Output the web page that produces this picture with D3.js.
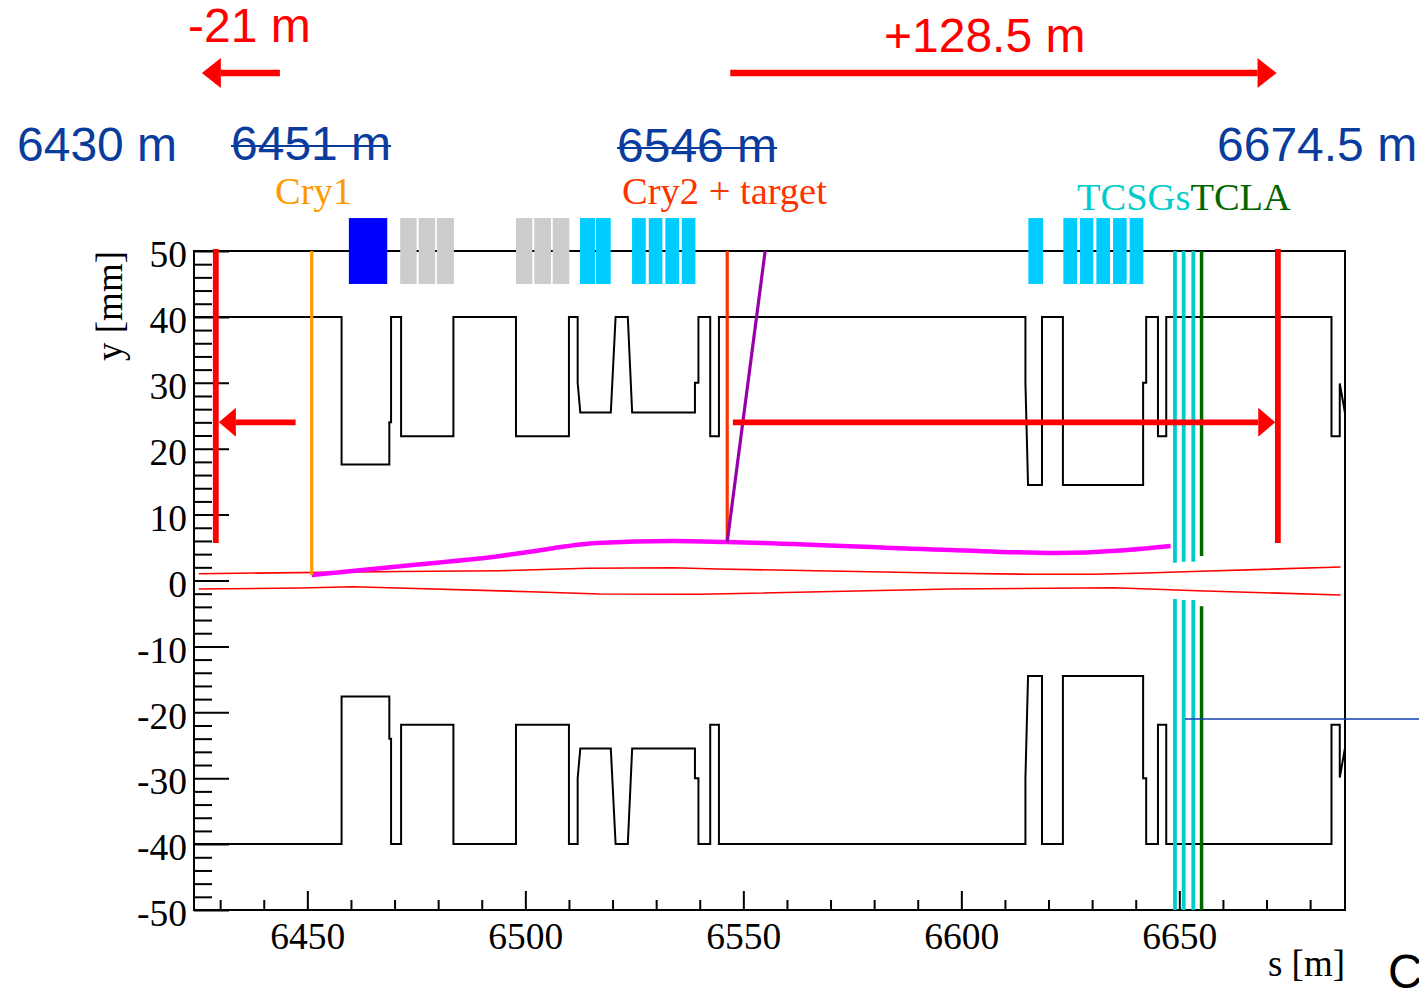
<!DOCTYPE html>
<html>
<head>
<meta charset="utf-8">
<script src="https://cdn.jsdelivr.net/npm/d3@7"></script>
<style>
body { margin: 0; background: #fff; }
</style>
</head>
<body>
<div class="chart"></div>
<script>
const width = 1419
const height = 989
const margin = { top: 251, right: 74, bottom: 79, left: 194 }
const innerWidth = width - margin.left - margin.right
const innerHeight = height - margin.top - margin.bottom

// axes
const sDomain = [6424, 6688]
const yDomain = [-50, 50]
const xTicksMajor = [6450, 6500, 6550, 6600, 6650]
const xTicksMinor = [6430, 6440, 6460, 6470, 6480, 6490, 6510, 6520, 6530, 6540, 6560, 6570, 6580, 6590, 6610, 6620, 6630, 6640, 6660, 6670, 6680]
const yTicksMajor = [-50, -40, -30, -20, -10, 0, 10, 20, 30, 40, 50]
const yTicksMinor = d3.range(-48, 50, 2).filter(v => v % 10 !== 0)

// aperture (upper half, lower half is its mirror) [s, y]
const aperture = [
    [6424, 40], [6457.85, 40], [6457.85, 17.6], [6468.8, 17.6], [6468.8, 24], [6469.2, 24], [6469.2, 40],
    [6471.5, 40], [6471.5, 21.9], [6483.5, 21.9], [6483.5, 40], [6497.85, 40], [6497.85, 21.9],
    [6510, 21.9], [6510, 40], [6512, 40], [6512, 30], [6512.6, 25.5], [6519.6, 25.5], [6520.7, 40],
    [6523.5, 40], [6524.5, 25.5], [6538.9, 25.5], [6538.9, 30], [6539.7, 30], [6539.7, 40],
    [6542.4, 40], [6542.4, 21.9], [6544.4, 21.9], [6544.4, 40], [6614.7, 40], [6614.7, 30],
    [6615.3, 14.5], [6618.5, 14.5], [6618.5, 40], [6623.3, 40], [6623.3, 14.5], [6641.7, 14.5],
    [6641.7, 30], [6642.4, 30], [6642.4, 40], [6645.1, 40], [6645.1, 21.9], [6647.0, 21.9],
    [6647.0, 40], [6684.9, 40], [6684.9, 21.9], [6686.8, 21.9], [6686.8, 29.9], [6688, 25.4]
]

// beam envelope
const envUpper = [[6425.1, 1.03], [6471.2, 1.37], [6494.2, 1.49], [6514.2, 1.85], [6533.9, 1.94], [6544.0, 1.75],
    [6597.5, 1.09], [6615.8, 0.94], [6630.3, 0.94], [6640.4, 1.09], [6654.9, 1.40], [6687.0, 2.05]]
const envLower = [[6425.1, -1.29], [6448.3, -1.14], [6460.4, -0.94], [6466.6, -1.06], [6501.1, -1.70],
    [6517.1, -2.05], [6540.1, -2.09], [6597.5, -1.29], [6634.9, -1.09], [6654.2, -1.55], [6687.0, -2.20]]

// channeled beam trajectory
const channeled = [[6451.0, 0.83], [6474.2, 2.35], [6494.2, 3.72], [6501.1, 4.37], [6516.4, 5.69], [6533.9, 5.99],
    [6546.3, 5.84], [6597.5, 4.63], [6622.0, 4.17], [6636.5, 4.55], [6648.0, 5.24]]
const secondary = [[6546.3, 5.84], [6555.0, 50]]

// elements drawn above the frame [s0, s1]
const dipoleBlue = [[6459.52, 6468.32]]
const magnetsGray = [[6471.30, 6475.06], [6475.52, 6479.33], [6479.72, 6483.62],
    [6497.85, 6501.60], [6502.05, 6505.89], [6506.28, 6510.09]]
const quadsCyan = [[6512.54, 6515.98], [6516.21, 6519.59], [6524.48, 6527.62], [6528.31, 6531.43],
    [6532.12, 6535.27], [6535.88, 6539.01], [6615.37, 6618.74], [6623.40, 6626.54], [6627.23, 6630.28],
    [6630.97, 6634.11], [6634.80, 6637.92], [6638.61, 6641.75]]
const elementY = [45, 55]

// crystals and collimators
const cry1 = { s: 6451.0, y0: 0.83 }
const cry2 = { s: 6546.3, y0: 5.84 }
const tcsgS = [6649.0, 6651.0, 6653.2]
const tcsgUp = [2.7, 2.85, 2.85]
const tcsgLow = [-2.8, -2.96, -2.96]
const tclaS = [6655.1]
const tclaUp = [3.7]
const tclaLow = [-3.9]

// red markers
const redLines = [6429.0, 6672.6]
const redLineY = [5.7, 50.3]
const arrowsIn = [[6447.3, 6429.7], [6547.6, 6672.0]]
const arrowInY = 24
const arrowsTop = [[6443.7, 6425.8], [6547.0, 6672.3]]
const pointer = [[6651.3, -21], [6705, -21]]

const svg = d3.select(".chart")
    .append("svg")
    .attr("width", width)
    .attr("height", height)

const g = svg.append("g")
    .attr("transform", "translate(" + margin.left + "," + margin.top + ")")

const xScale = d3.scaleLinear().domain(sDomain).range([0, innerWidth])
const yScale = d3.scaleLinear().domain(yDomain).range([innerHeight, 0])

svg.append("defs").append("clipPath").attr("id", "clip")
    .append("rect").attr("width", innerWidth).attr("height", innerHeight)

// axes
const serif = "Liberation Serif, Times New Roman, serif"
const sans = "Liberation Sans, Arial, sans-serif"

const xAxis = d3.axisBottom(xScale).tickValues(xTicksMajor).tickFormat(d => String(d))
    .tickSizeInner(-19).tickSizeOuter(0).tickPadding(12)
const xAxisMinor = d3.axisBottom(xScale).tickValues(xTicksMinor).tickFormat("")
    .tickSizeInner(-10).tickSizeOuter(0)
const yAxis = d3.axisLeft(yScale).tickValues(yTicksMajor).tickFormat(d => String(d))
    .tickSizeInner(-35).tickSizeOuter(0).tickPadding(7)
const yAxisMinor = d3.axisLeft(yScale).tickValues(yTicksMinor).tickFormat("")
    .tickSizeInner(-18).tickSizeOuter(0)

function styleAxis(sel) {
    sel.select(".domain").remove()
    sel.selectAll("line").attr("stroke", "#000").attr("stroke-width", 2)
    sel.selectAll("text").attr("font-family", serif).attr("font-size", 37.5).attr("fill", "#000")
}

g.append("g").attr("transform", "translate(0," + innerHeight + ")").call(xAxis).call(styleAxis)
g.append("g").attr("transform", "translate(0," + innerHeight + ")").call(xAxisMinor).call(styleAxis)
g.append("g").call(yAxis).call(styleAxis)
    .selectAll("text").attr("dy", "0.42em")
g.append("g").call(yAxisMinor).call(styleAxis)

g.append("rect")
    .attr("width", innerWidth).attr("height", innerHeight)
    .attr("fill", "none").attr("stroke", "#000").attr("stroke-width", 2)

g.append("text")
    .attr("transform", "translate(" + (-72) + ",0) rotate(-90)")
    .attr("text-anchor", "end")
    .attr("font-family", serif).attr("font-size", 37)
    .text("y [mm]")

g.append("text")
    .attr("x", innerWidth).attr("y", innerHeight + 66)
    .attr("text-anchor", "end")
    .attr("font-family", serif).attr("font-size", 37)
    .text("s [m]")

// elements above frame
function drawElements(list, color) {
    g.selectAll(null).data(list).enter().append("rect")
        .attr("x", d => xScale(d[0]))
        .attr("width", d => xScale(d[1]) - xScale(d[0]))
        .attr("y", yScale(elementY[1]))
        .attr("height", yScale(elementY[0]) - yScale(elementY[1]))
        .attr("fill", color)
}
drawElements(dipoleBlue, "#0000ff")
drawElements(magnetsGray, "#cccccc")
drawElements(quadsCyan, "#00ccff")

const plot = g.append("g").attr("clip-path", "url(#clip)")
const line = d3.line().x(d => xScale(d[0])).y(d => yScale(d[1]))
const smooth = d3.line().curve(d3.curveMonotoneX).x(d => xScale(d[0])).y(d => yScale(d[1]))

plot.append("path").attr("d", line(aperture))
    .attr("fill", "none").attr("stroke", "#000").attr("stroke-width", 2)
plot.append("path").attr("d", line(aperture.map(d => [d[0], -d[1]])))
    .attr("fill", "none").attr("stroke", "#000").attr("stroke-width", 2)

plot.append("path").attr("d", line(envUpper))
    .attr("fill", "none").attr("stroke", "#ff0000").attr("stroke-width", 1.6)
plot.append("path").attr("d", line(envLower))
    .attr("fill", "none").attr("stroke", "#ff0000").attr("stroke-width", 1.6)

plot.append("path").attr("d", smooth(channeled))
    .attr("fill", "none").attr("stroke", "#ff00ff").attr("stroke-width", 4.5)

function vline(s, y0, y1, color, w) {
    g.append("line")
        .attr("x1", xScale(s)).attr("x2", xScale(s))
        .attr("y1", yScale(y0)).attr("y2", yScale(y1))
        .attr("stroke", color).attr("stroke-width", w)
}

vline(cry1.s, cry1.y0, 50, "#ff9900", 3.2)
vline(cry2.s, cry2.y0, 50, "#ff3300", 3.2)
g.append("path").attr("d", line(secondary))
    .attr("fill", "none").attr("stroke", "#9900aa").attr("stroke-width", 3.2)

tcsgS.forEach((s, i) => {
    vline(s, tcsgUp[i], 50, "#00cccc", 3.8)
    vline(s, tcsgLow[i], -50, "#00cccc", 3.8)
})
tclaS.forEach((s, i) => {
    vline(s, tclaUp[i], 50, "#006600", 3.5)
    vline(s, tclaLow[i], -50, "#006600", 3.5)
})

redLines.forEach(s => vline(s, redLineY[0], redLineY[1], "#ff0000", 5.8))

function arrow(x0, x1, y, w, headLen, headHalf) {
    const dir = Math.sign(x1 - x0)
    const xb = x1 - dir * headLen
    g.append("line")
        .attr("x1", x0).attr("x2", xb).attr("y1", y).attr("y2", y)
        .attr("stroke", "#ff0000").attr("stroke-width", w)
    g.append("path")
        .attr("d", "M" + x1 + "," + y + "L" + xb + "," + (y - headHalf) + "L" + xb + "," + (y + headHalf) + "Z")
        .attr("fill", "#ff0000")
}
arrowsIn.forEach(a => arrow(xScale(a[0]), xScale(a[1]), yScale(arrowInY), 5.8, 17, 14.5))
arrowsTop.forEach(a => arrow(xScale(a[0]), xScale(a[1]), 73 - margin.top, 6.5, 19, 15))

g.append("path").attr("d", line(pointer))
    .attr("fill", "none").attr("stroke", "#1040b0").attr("stroke-width", 1.5)

// labels on top
const topLabels = [
    { text: "-21 m", x: 188, y: 42, color: "#ff0000", strike: false },
    { text: "+128.5 m", x: 884, y: 52, color: "#ff0000", strike: false },
    { text: "6430 m", x: 17, y: 161, color: "#0a3c9e", strike: false },
    { text: "6451 m", x: 231, y: 160, color: "#0a3c9e", strike: true },
    { text: "6546 m", x: 617, y: 162, color: "#0a3c9e", strike: true },
    { text: "6674.5 m", x: 1217, y: 161, color: "#0a3c9e", strike: false },
    { text: "C", x: 1388, y: 988, color: "#000", strike: false }
]
topLabels.forEach(d => {
    const t = svg.append("text")
        .attr("x", d.x).attr("y", d.y)
        .attr("font-family", sans).attr("font-size", 48)
        .attr("fill", d.color)
        .text(d.text)
    if (d.strike) {
        const len = t.node().getComputedTextLength()
        svg.append("line")
            .attr("x1", d.x).attr("x2", d.x + len)
            .attr("y1", d.y - 14).attr("y2", d.y - 14)
            .attr("stroke", d.color).attr("stroke-width", 2)
    }
})

svg.append("text").attr("x", 275).attr("y", 204)
    .attr("font-family", serif).attr("font-size", 38.5).attr("fill", "#ff9900")
    .text("Cry1")
svg.append("text").attr("x", 622).attr("y", 204)
    .attr("font-family", serif).attr("font-size", 38.5).attr("fill", "#ff3300")
    .text("Cry2 + target")
const coll = svg.append("text").attr("x", 1077).attr("y", 210)
    .attr("font-family", serif).attr("font-size", 38.5)
coll.append("tspan").attr("fill", "#00cccc").text("TCSGs")
coll.append("tspan").attr("fill", "#006600").text("TCLA")
</script>
</body>
</html>
